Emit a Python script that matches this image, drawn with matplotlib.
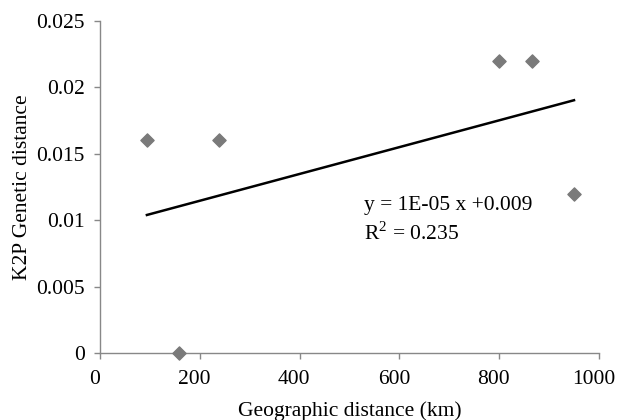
import numpy as np
import matplotlib
matplotlib.use("Agg")
import matplotlib.pyplot as plt
import matplotlib.transforms as mtransforms

plt.rcParams['font.family'] = ['Liberation Serif', 'DejaVu Serif']
plt.rcParams['mathtext.fontset'] = 'custom'
plt.rcParams['mathtext.rm'] = 'Liberation Serif'

geo_km = [94, 158, 238, 800, 866, 950]
k2p = [0.016, 0.0, 0.016, 0.022, 0.022, 0.012]
x_ticks = [0, 200, 400, 600, 800, 1000]
y_ticks = [0, 0.005, 0.01, 0.015, 0.02, 0.025]
y_tick_labels = ["0", "0.005", "0.01", "0.015", "0.02", "0.025"]

fig = plt.figure(figsize=(6.18, 4.2), dpi=100)
ax = fig.add_axes([0.1618, 0.1588, 0.8074, 0.7919])

ax.scatter(geo_km, k2p, marker='D', s=45, color='#7a7a7a', zorder=3, clip_on=False)

slope, intercept = np.polyfit(geo_km, k2p, 1)
xs = np.array([min(geo_km), max(geo_km)])
ax.plot(xs, slope * xs + intercept, color='black', lw=1.8, zorder=2)

ax.text(530, 0.0111, "y = 1E-05 x +0.009", fontsize=15.5, va='center', ha='left')
ax.text(530, 0.0090, r"R$^{\mathrm{2}}$ = 0.235", fontsize=15.5, va='center', ha='left')

ax.set_xlim(0, 1000)
ax.set_ylim(0, 0.025)
ax.set_xticks(x_ticks)
ax.set_yticks(y_ticks)
ax.set_yticklabels(y_tick_labels)
for s in ['top', 'right']:
    ax.spines[s].set_visible(False)
for s in ['left', 'bottom']:
    ax.spines[s].set_color('#888888')
    ax.spines[s].set_linewidth(1.0)
ax.tick_params(axis='both', colors='#888888', labelcolor='black', labelsize=15.5,
               direction='out', length=4, width=1.0)
ax.tick_params(axis='x', pad=8)
ax.tick_params(axis='y', pad=7)

offset = mtransforms.ScaledTranslation(-4 / 72, 0, fig.dpi_scale_trans)
for lbl in ax.get_xticklabels():
    lbl.set_transform(lbl.get_transform() + offset)

ax.set_xlabel("Geographic distance (km)", fontsize=15.5, labelpad=9)
ax.set_ylabel("K2P Genetic distance", fontsize=15.5, labelpad=3)

fig.savefig("out.png", dpi=100)
